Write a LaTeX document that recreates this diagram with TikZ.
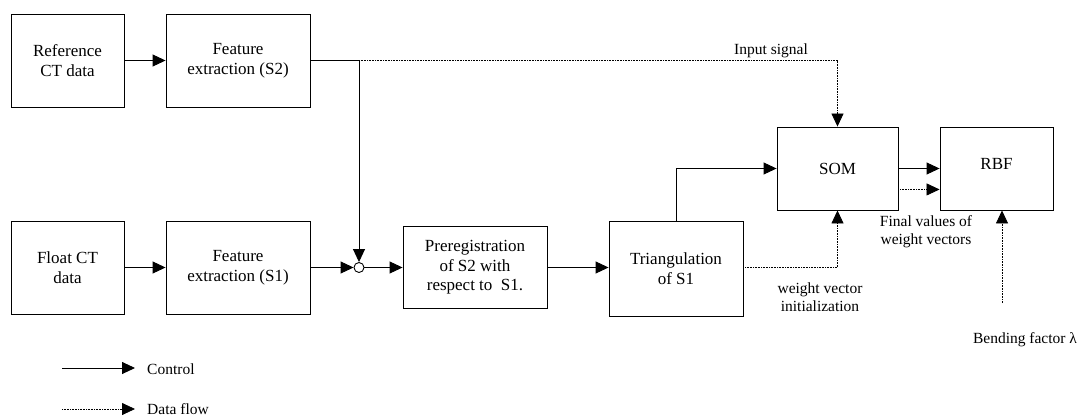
\documentclass[tikz,border=0pt]{standalone}
\usepackage{fontspec}
\setmainfont{Liberation Serif}
\usetikzlibrary{arrows.meta,calc}
\begin{document}
\begin{tikzpicture}[x=1pt,y=-1pt,
  box/.style={draw,line width=0.9pt,inner sep=0pt,align=center,font=\fontsize{17}{19.5}\selectfont},
  lbl/.style={inner sep=0pt,align=center,font=\fontsize{15.5}{18}\selectfont},
  ctl/.style={line width=0.9pt,-{Triangle[length=13pt,width=12pt]}},
  ctlplain/.style={line width=0.9pt},
  dat/.style={line width=0.8pt,dash pattern=on 0.8pt off 0.8pt,-{Triangle[length=13pt,width=12pt]}},
  datplain/.style={line width=0.8pt,dash pattern=on 0.8pt off 0.8pt}]
\useasboundingbox (0,0) rectangle (1085,418);

\node[box,minimum width=113pt,minimum height=93pt] (ref) at (67.5,60.5) {Reference\\CT data};
\node[box,minimum width=144pt,minimum height=93pt] (fs2) at (238,60.5) {Feature\\extraction (S2)};
\node[box,minimum width=113pt,minimum height=93pt] (flt) at (67.5,267.5) {Float CT\\data};
\node[box,minimum width=144pt,minimum height=93pt] (fs1) at (238,267.5) {Feature\\extraction (S1)};
\node[draw,circle,line width=0.9pt,minimum size=10pt,inner sep=0pt] (junc) at (359,267.5) {};
\node[box,minimum width=144pt,minimum height=82pt] (pre) at (475,267.5) {Preregistration\\of S2 with\\respect to\ \ S1.};
\node[box,minimum width=134pt,minimum height=95pt] (tri) at (676,268.5) {Triangulation\\of S1};
\node[box,minimum width=121pt,minimum height=83pt] (som) at (837.5,168.5) {SOM};
\node[box,minimum width=113pt,minimum height=83pt,text depth=9pt] (rbf) at (996.5,168.5) {RBF};

\coordinate (split) at (359,60.5);
\coordinate (bend) at (1002,303);

% control flow
\draw[ctl] (ref) -- (fs2);
\draw[ctl] (flt) -- (flt -| fs1.west);
\draw[ctl] (fs1.east |- junc) -- (junc.west);
\draw[ctl] (junc.east) -- (pre.west);
\draw[ctlplain] (fs2.east) -- (split);
\draw[ctl] (split) -- (junc.north);
\draw[ctl] (pre.east) -- (pre.east -| tri.west);
\draw[ctl] (tri.north) |- (som.west);
\draw[ctl] (som.east) -- (rbf.west);

% data flow
\draw[dat] (split) -- (split -| som.north) -- (som.north);
\draw[dat] (tri.east |- pre.east) -- (pre.east -| som.south) -- (som.south);
\draw[dat] ($(som.south east)+(0,-21)$) -- ($(rbf.south west)+(0,-21)$);
\draw[dat] (bend) -- (bend |- rbf.south);

% labels
\node[lbl] (insig) at (771,51) {Input signal};
\node[lbl] (wvi) at (820,297) {weight vector\\initialization};
\node[lbl] (fvw) at (926,232) {Final values of\\weight vectors};
\node[lbl] (bfl) at (1025,340) {Bending factor λ};

% legend
\coordinate (l1a) at (62,368);
\coordinate (l1b) at (135,368);
\coordinate (l2a) at (62,409);
\coordinate (l2b) at (135,409);
\draw[ctl] (l1a) -- (l1b);
\draw[dat] (l2a) -- (l2b);
\node[lbl,anchor=west] (lctl) at (147,369) {Control};
\node[lbl,anchor=west] (ldat) at (147,409) {Data flow};
\end{tikzpicture}
\end{document}
